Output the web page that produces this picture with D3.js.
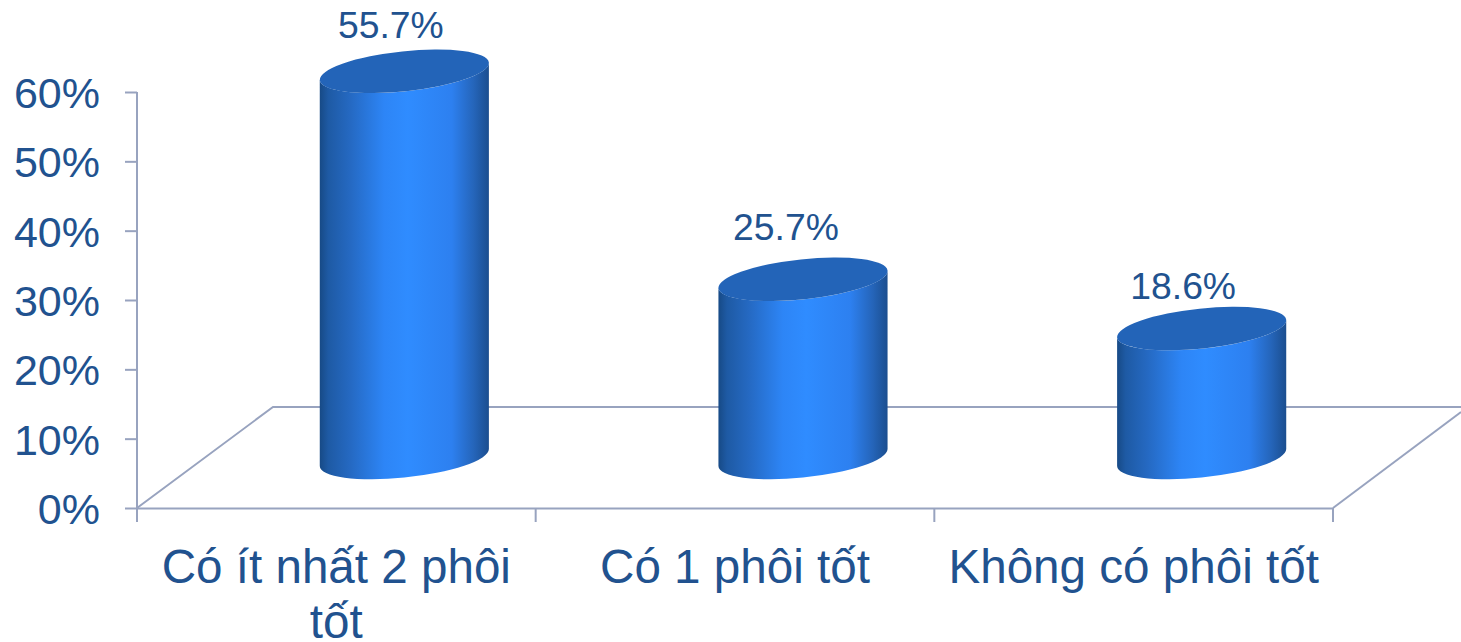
<!DOCTYPE html>
<html><head><meta charset="utf-8">
<script src="https://cdn.jsdelivr.net/npm/d3@7"></script>
<style>html,body{margin:0;padding:0;background:#fff;overflow:hidden}svg{display:block}</style>
</head><body><div id="chart"></div>
<script>
const categories = ["Có ít nhất 2 phôi tốt", "Có 1 phôi tốt", "Không có phôi tốt"];
const values = [55.7, 25.7, 18.6];
const valueLabels = ["55.7%", "25.7%", "18.6%"];
const yTicks = [0, 10, 20, 30, 40, 50, 60];

const W = 1461, H = 642;
const textColor = "#21528f", axisColor = "#98a3bf";
const font = "'Liberation Sans', Arial, sans-serif";
const left = 137, right = 1333, y0 = 508, yTop = 92;
const depthX = 68, depthY = 50.5;
const rx = 85, ry = 20, tilt = -6;
const labelShift = [[-13.5, -33], [-17, -39], [-18.5, -30]];

const svg = d3.select("#chart").append("svg").attr("width", W).attr("height", H);
const x = d3.scaleBand().domain(categories).range([left, right]);
const y = d3.scaleLinear().domain([0, 60]).range([y0, yTop]);

const grad = svg.append("defs").append("linearGradient").attr("id", "cyl");
[[0, "#174a86"], [0.05, "#1e5aa4"], [0.18, "#2569c2"], [0.38, "#2d85f6"], [0.52, "#2f8cff"],
 [0.78, "#2d80f0"], [0.91, "#2565ba"], [1, "#1b4e8f"]].forEach(([o, c]) =>
  grad.append("stop").attr("offset", o).attr("stop-color", c));

// floor
const floor = svg.append("g").attr("fill", "none").attr("stroke", axisColor).attr("stroke-width", 2);
floor.append("path").attr("d", d3.line()([[left, y0], [273, 407], [W, 407]]));
floor.append("path").attr("d", d3.line()([[right, y0], [W, 412]]));

// axes
const yAxis = svg.append("g").attr("transform", `translate(${left},0)`)
  .call(d3.axisLeft(y).tickValues(yTicks).tickSize(12).tickPadding(25).tickFormat(d => d + "%"));
const xAxis = svg.append("g").attr("transform", `translate(0,${y0})`)
  .call(d3.axisBottom(x).tickValues([]).tickSize(0));
xAxis.selectAll(".tick").remove();
xAxis.selectAll("line.sep").data(d3.range(categories.length + 1)).join("line").attr("class", "sep")
  .attr("x1", i => left + i * x.step()).attr("x2", i => left + i * x.step())
  .attr("y1", 0).attr("y2", 14).attr("stroke", axisColor).attr("stroke-width", 2);
[yAxis, xAxis].forEach(g => g.selectAll("path,line").attr("stroke", axisColor).attr("stroke-width", 2));
yAxis.selectAll("text").attr("font-family", font).attr("font-size", 43).attr("fill", textColor).attr("dy", "0.36em");
yAxis.select(".domain").attr("d", `M0,${yTop}H0V${y0}`);

// cylinders
const t = tilt * Math.PI / 180;
const hw = Math.sqrt(rx*rx*Math.cos(t)**2 + ry*ry*Math.sin(t)**2);
const off = (rx*rx - ry*ry) * Math.sin(t) * Math.cos(t) / hw;
const bars = svg.append("g").selectAll("g").data(categories.map((c, i) => ({c, v: values[i], l: valueLabels[i], s: labelShift[i]}))).join("g");
bars.each(function(d) {
  const g = d3.select(this);
  const cx = x(d.c) + x.bandwidth() / 2 + depthX;
  const by = y(0) - depthY, ty = y(d.v) - depthY;
  const xl = cx - hw, xr = cx + hw;
  const arc = `A${rx},${ry} ${tilt} 0 `;
  g.append("path").attr("fill", "url(#cyl)")
    .attr("d", `M${xl},${ty - off}L${xl},${by - off}${arc}0 ${xr},${by + off}L${xr},${ty + off}${arc}1 ${xl},${ty - off}Z`);
  g.append("ellipse").attr("rx", rx).attr("ry", ry).attr("fill", "#2364b8")
    .attr("transform", `translate(${cx},${ty}) rotate(${tilt})`);
  g.append("text").attr("x", cx + d.s[0]).attr("y", ty + d.s[1]).attr("text-anchor", "middle")
    .attr("font-family", font).attr("font-size", 37.3).attr("fill", textColor).text(d.l);
});

// category labels, wrapped as in the original
const catLines = [["Có ít nhất 2 phôi", "tốt"], ["Có 1 phôi tốt"], ["Không có phôi tốt"]];
svg.append("g").selectAll("text").data(categories).join("text")
  .attr("font-family", font).attr("font-size", 47.6).attr("fill", textColor).attr("text-anchor", "middle")
  .each(function(c, i) {
    const cx = x(c) + x.bandwidth() / 2;
    d3.select(this).selectAll("tspan").data(catLines[i]).join("tspan")
      .attr("x", cx).attr("y", (s, j) => 583 + j * 55).text(s => s);
  });
</script></body></html>
